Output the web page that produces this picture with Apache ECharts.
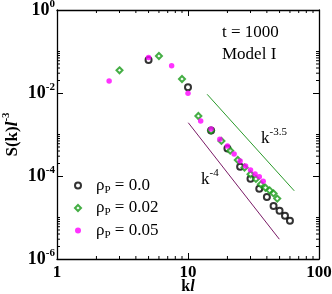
<!DOCTYPE html>
<html><head><meta charset="utf-8">
<script src="https://cdn.jsdelivr.net/npm/echarts@6/dist/echarts.min.js"></script>
<style>html,body{margin:0;padding:0;background:#fff}#c{width:332px;height:294px}</style>
</head><body><div id="c"></div>
<script>
// ---- data ----
var rho00 = [[5,0.0624],[10,0.0137],[15,0.00124],[20,4.6e-4],[25,1.68e-4],[30,8.6e-5],[35,4.9e-5],[40,3.1e-5],[45,1.9e-5],[50,1.45e-5],[55,1.1e-5],[60,8.3e-6]];
var rho02 = [[3,0.0352],[6,0.078],[9,0.0217],[12,0.00279],[15,0.00124],[18,7.0e-4],[21,4.07e-4],[24,2.43e-4],[27,1.6e-4],[30,1.1e-4],[33,8.5e-5],[36,6.3e-5],[39,5.2e-5],[42,4.5e-5],[45,3.8e-5],[48,2.85e-5]];
var rho05 = [[2.5,0.0195],[5,0.072],[7.5,0.0455],[10,0.0098],[12.5,0.00211],[15,0.00135],[17.5,7.65e-4],[20,5.3e-4],[22.5,3.39e-4],[25,2.3e-4],[27.5,1.74e-4],[30,1.40e-4],[32.5,1.12e-4],[35,9.6e-5],[37.5,7.5e-5]];
var slope35 = [[14.0,9.3e-3],[64.7,4.4e-5]];
var slope4 = [[10.05,1.92e-3],[49.8,3.0e-6]];
var seriesNames = ['ρP = 0.0','ρP = 0.02','ρP = 0.05'];
var legendLabels = ['0.0','0.02','0.05'];
var xTickLabels = {1:'1',10:'10',100:'100'};
var yTickExps = [0,-2,-4,-6];
var xMinorTicks = [2,3,4,5,6,7,8,9,20,30,40,50,60,70,80,90];
var yMinorTicks = [2e-6,3e-6,4e-6,5e-6,6e-6,7e-6,8e-6,9e-6,1e-5,2e-4,3e-4,4e-4,5e-4,6e-4,7e-4,8e-4,9e-4,1e-3,2e-2,3e-2,4e-2,5e-2,6e-2,7e-2,8e-2,9e-2,1e-1];

var FONT = 'Liberation Serif';
var chart = echarts.init(document.getElementById('c'), null, {renderer:'canvas'});

function logAxis(pos, min, max, show) {
  return {
    type:'log', logBase:10, min:min, max:max, position:pos, interval: (min===1e-6? 2 : 1),
    axisLine:{show:true, onZero:false, lineStyle:{color:'#000', width:1.3}},
    axisTick:{show:true, inside:true, length:6, lineStyle:{color:'#000', width:1}},
    minorTick:{show:false},
    splitLine:{show:false},
    axisLabel:{show:show}
  };
}
var xb = logAxis('bottom',1,100,true);
xb.axisLabel = {show:true, margin:5, color:'#000', fontFamily:FONT, fontWeight:'bold', fontSize:17,
  formatter:function(v){ return xTickLabels[Math.round(v)] || ''; }};
xb.name = '{b|k}{i|l}';
xb.nameLocation = 'middle';
xb.nameGap = 20;
xb.nameMoveOverlap = false;
xb.nameTextStyle = {rich:{b:{fontFamily:FONT,fontWeight:'bold',fontSize:16,color:'#000'},i:{fontFamily:FONT,fontWeight:'bold',fontStyle:'italic',fontSize:16,color:'#000'}}};
var xt = logAxis('top',1,100,false);
var yl = logAxis('left',1e-6,1,true);
yl.axisLabel = {show:true, margin:2, color:'#000',
  formatter:function(v){ var e=Math.round(Math.log10(v)); if (yTickExps.indexOf(e)<0) return ''; return '{b|10}{s|'+e+'}'; },
  rich:{b:{fontFamily:FONT,fontWeight:'bold',fontSize:18,color:'#000'},s:{fontFamily:FONT,fontWeight:'bold',fontSize:11,color:'#000',padding:[0,0,12,0]}}};
yl.name = '{b|S(k)}{i|l}{s|-3}';
yl.nameLocation = 'middle';
yl.nameGap = 33;
yl.nameMoveOverlap = false;
yl.nameTextStyle = {rich:{b:{fontFamily:FONT,fontWeight:'bold',fontSize:17,color:'#000'},i:{fontFamily:FONT,fontWeight:'bold',fontStyle:'italic',fontSize:17,color:'#000'},s:{fontFamily:FONT,fontWeight:'bold',fontSize:11,color:'#000',padding:[0,0,12,0]}}};
var yr = logAxis('right',1e-6,1,false);

function minorX(params, api){
  var v = api.value(0);
  var b = api.coord([v,1e-6]), t = api.coord([v,1]);
  return {type:'group', children:[
    {type:'line', shape:{x1:b[0],y1:b[1],x2:b[0],y2:b[1]-3}, style:{stroke:'#000',lineWidth:1}},
    {type:'line', shape:{x1:t[0],y1:t[1],x2:t[0],y2:t[1]+3}, style:{stroke:'#000',lineWidth:1}}
  ]};
}
function minorY(params, api){
  var v = api.value(1);
  var l = api.coord([1,v]), r = api.coord([100,v]);
  return {type:'group', children:[
    {type:'line', shape:{x1:l[0],y1:l[1],x2:l[0]+3,y2:l[1]}, style:{stroke:'#000',lineWidth:1}},
    {type:'line', shape:{x1:r[0],y1:r[1],x2:r[0]-3,y2:r[1]}, style:{stroke:'#000',lineWidth:1}}
  ]};
}

var legendRich = {a:{fontFamily:FONT,fontSize:17,color:'#000',padding:[0,0,0,10]},p:{fontFamily:FONT,fontSize:11,color:'#000',padding:[9,0,0,0]},c:{fontFamily:FONT,fontSize:17,color:'#000'}};

var option = {
  animation:false,
  backgroundColor:'#fff',
  grid:{left:57, right:13, top:10, bottom:35, containLabel:false, outerBoundsMode:'none'},
  xAxis:[xb, xt],
  yAxis:[yl, yr],
  legend:{
    data:seriesNames, orient:'vertical', left:69, top:172, itemGap:4, itemWidth:6, itemHeight:6,
    formatter:function(n){ var i=seriesNames.indexOf(n); return '{a|ρ}{p|P}{c| = '+legendLabels[i]+'}'; },
    textStyle:{rich:legendRich}
  },
  graphic:[
    {type:'text', left:222, top:24, style:{text:'t = 1000', font:'17px "Liberation Serif"', fill:'#000'}},
    {type:'text', left:222, top:46, style:{text:'Model I', font:'17px "Liberation Serif"', fill:'#000'}},
    {type:'text', left:261, top:127, style:{text:'{k|k}{s|-3.5}', rich:{k:{fontFamily:FONT,fontSize:17,fill:'#000'},s:{fontFamily:FONT,fontSize:11,fill:'#000',padding:[0,0,12,0]}}}},
    {type:'text', left:201, top:168, style:{text:'{k|k}{s|-4}', rich:{k:{fontFamily:FONT,fontSize:17,fill:'#000'},s:{fontFamily:FONT,fontSize:11,fill:'#000',padding:[0,0,12,0]}}}}
  ],
  series:[
    {type:'line', data:slope35, symbol:'none', silent:true, lineStyle:{color:'#2a9a2a', width:1}, xAxisIndex:0, yAxisIndex:0},
    {type:'line', data:slope4, symbol:'none', silent:true, lineStyle:{color:'#7a1a66', width:1}, xAxisIndex:0, yAxisIndex:0},
    {name:seriesNames[0], type:'scatter', data:rho00, symbol:'emptyCircle', symbolSize:6, itemStyle:{color:'#000', borderWidth:1}},
    {name:seriesNames[1], type:'scatter', data:rho02, symbol:'emptyDiamond', symbolSize:6, itemStyle:{color:'#169a16', borderWidth:1.3}},
    {name:seriesNames[2], type:'scatter', data:rho05, symbol:'circle', symbolSize:5.5, itemStyle:{color:'#ff00ff'}},
    {type:'custom', data:xMinorTicks.map(function(v){return [v,1e-6];}), renderItem:minorX, silent:true, clip:false},
    {type:'custom', data:yMinorTicks.map(function(v){return [1,v];}), renderItem:minorY, silent:true, clip:false}
  ]
};
chart.setOption(option);
</script></body></html>
